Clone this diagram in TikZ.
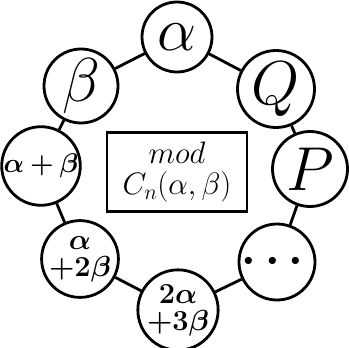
\documentclass[tikz,border=0pt]{standalone}
\usepackage{fix-cm}
\usepackage{amsmath,bm}
\usepackage{tikz}
\usetikzlibrary{positioning}

\begin{document}
\begin{tikzpicture}[x=1pt, y=-1pt,
  ringnode/.style={draw=black, line width=2.8pt, circle, fill=white,
    inner sep=0pt, minimum size=75pt},
  ringlink/.style={draw=black, line width=2.8pt},
  bigfont/.style={font=\fontsize{62}{64}\selectfont},
  smallfont/.style={font=\fontsize{29}{32}\selectfont, align=center}]

\useasboundingbox (0,0) rectangle (349,348);

% Ring of values
\node[ringnode, bigfont, minimum size=70pt] (alpha) at (177,37) {$\alpha$};
\node[ringnode, bigfont, minimum size=77pt] (q) at (276,89) {$Q$};
\node[ringnode, bigfont] (p) at (310,169) {$P$};
\node[ringnode, font=\fontsize{46}{48}\selectfont, minimum size=76pt] (dots) at (277,262) {$\bm{\cdots}$};
\node[ringnode, smallfont] (twoathreeb) at (178,310) {$\bm{2\alpha}$\\[-5pt]$\bm{+3\beta}$};
\node[ringnode, smallfont, minimum size=76pt] (atwob) at (80,259) {$\bm{\alpha}$\\[-5pt]$\bm{+2\beta}$};
\node[ringnode, font=\fontsize{27}{30}\selectfont, minimum size=76pt] (apb) at (41,166) {$\bm{\alpha+\beta}$};
\node[ringnode, bigfont, minimum size=74pt] (beta) at (81,86) {$\beta$};

% Centre box
\node[draw=black, line width=2.8pt, minimum width=140pt, minimum height=79pt,
  align=center, font=\fontsize{31}{34}\selectfont] (modbox) at (177,172)
  {$mod$\\[-3pt]$C_n(\alpha,\beta)$};

% Connecting lines
\draw[ringlink] (alpha) -- (q);
\draw[ringlink] (q) -- (p);
\draw[ringlink] (p) -- (dots);
\draw[ringlink] (dots) -- (twoathreeb);
\draw[ringlink] (twoathreeb) -- (atwob);
\draw[ringlink] (atwob) -- (apb);
\draw[ringlink] (apb) -- (beta);
\draw[ringlink] (beta) -- (alpha);

\end{tikzpicture}
\end{document}
